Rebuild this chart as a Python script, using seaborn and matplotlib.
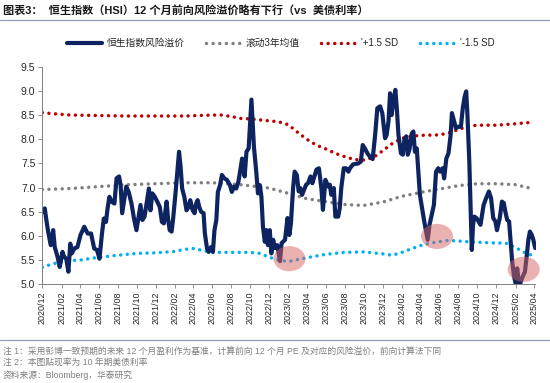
import matplotlib
matplotlib.use("Agg")
import matplotlib.pyplot as plt
import matplotlib.dates as mdates
from matplotlib.patches import Ellipse
from matplotlib.lines import Line2D
import pandas as pd
import seaborn as sns

# 恒生指数风险溢价
hsi_dates = [
    "2020-12-03", "2020-12-09", "2020-12-14", "2020-12-19", "2020-12-28",
    "2021-01-05", "2021-01-10", "2021-01-19", "2021-01-26", "2021-02-04", "2021-02-09",
    "2021-02-16", "2021-02-23", "2021-03-01", "2021-03-06", "2021-03-14", "2021-03-24",
    "2021-04-03", "2021-04-15", "2021-04-26", "2021-05-07", "2021-05-17", "2021-05-26",
    "2021-06-03", "2021-06-11", "2021-06-17", "2021-06-24", "2021-06-29", "2021-07-05",
    "2021-07-12", "2021-07-21", "2021-07-28", "2021-08-05", "2021-08-10", "2021-08-15",
    "2021-08-23", "2021-08-28", "2021-09-05", "2021-09-14", "2021-09-22", "2021-09-30",
    "2021-10-07", "2021-10-13", "2021-10-19", "2021-10-26", "2021-11-03", "2021-11-09",
    "2021-11-14", "2021-11-20", "2021-11-28", "2021-12-06", "2021-12-14", "2021-12-21",
    "2021-12-27", "2022-01-05", "2022-01-10", "2022-01-15", "2022-01-21", "2022-01-26",
    "2022-02-03", "2022-02-09", "2022-02-14", "2022-02-19", "2022-02-24", "2022-03-03",
    "2022-03-10", "2022-03-17", "2022-03-22", "2022-03-30", "2022-04-05", "2022-04-10",
    "2022-04-15", "2022-04-20", "2022-04-26", "2022-05-04", "2022-05-08", "2022-05-15",
    "2022-05-20", "2022-05-28", "2022-06-03", "2022-06-08", "2022-06-14", "2022-06-19",
    "2022-06-26", "2022-07-02", "2022-07-10", "2022-07-18", "2022-07-28", "2022-08-03",
    "2022-08-10", "2022-08-17", "2022-08-24", "2022-09-05", "2022-09-13", "2022-09-19",
    "2022-09-26", "2022-10-05", "2022-10-13", "2022-10-20", "2022-10-26", "2022-11-01",
    "2022-11-06", "2022-11-11", "2022-11-17", "2022-11-22", "2022-11-27", "2022-12-03",
    "2022-12-08", "2022-12-14", "2022-12-19", "2022-12-27", "2023-01-05", "2023-01-10",
    "2023-01-21", "2023-01-29", "2023-02-04", "2023-02-09", "2023-02-16", "2023-02-21",
    "2023-02-28", "2023-03-06", "2023-03-11", "2023-03-17", "2023-03-23", "2023-03-30",
    "2023-04-05", "2023-04-13", "2023-04-19", "2023-05-02", "2023-05-10", "2023-05-18",
    "2023-05-23", "2023-05-31", "2023-06-09", "2023-06-14", "2023-06-19", "2023-06-27",
    "2023-07-02", "2023-07-11", "2023-07-16", "2023-07-21", "2023-07-29", "2023-08-05",
    "2023-08-13", "2023-08-18", "2023-08-28", "2023-09-14", "2023-09-22", "2023-09-28",
    "2023-10-05", "2023-10-13", "2023-10-21", "2023-10-30", "2023-11-07", "2023-11-14",
    "2023-11-23", "2023-11-30", "2023-12-09", "2023-12-14", "2023-12-20", "2023-12-25",
    "2023-12-30", "2024-01-05", "2024-01-11", "2024-01-16", "2024-01-21", "2024-01-29",
    "2024-02-04", "2024-02-09", "2024-02-15", "2024-02-20", "2024-02-25", "2024-03-04",
    "2024-03-09", "2024-03-14", "2024-03-20", "2024-03-25", "2024-03-30", "2024-04-05",
    "2024-04-13", "2024-04-19", "2024-04-24", "2024-04-30", "2024-05-07", "2024-05-14",
    "2024-05-21", "2024-05-28", "2024-06-03", "2024-06-11", "2024-06-16", "2024-06-23",
    "2024-06-30", "2024-07-07", "2024-07-11", "2024-07-18", "2024-07-24", "2024-08-02",
    "2024-08-09", "2024-08-15", "2024-08-21", "2024-08-26", "2024-08-30", "2024-09-05",
    "2024-09-09", "2024-09-13", "2024-09-17", "2024-09-21", "2024-09-28", "2024-10-05",
    "2024-10-11", "2024-10-21", "2024-10-29", "2024-11-07", "2024-11-14", "2024-11-21",
    "2024-11-28", "2024-12-03", "2024-12-12", "2024-12-19", "2024-12-25", "2024-12-30",
    "2025-01-05", "2025-01-11", "2025-01-16", "2025-01-21", "2025-01-27", "2025-02-02",
    "2025-02-06", "2025-02-12", "2025-02-16", "2025-02-21", "2025-02-26", "2025-03-03",
    "2025-03-09", "2025-03-14", "2025-03-19", "2025-03-25", "2025-03-30", "2025-04-05",
]
hsi_values = [
    6.50, 6.57, 6.33, 6.12, 5.81,
    6.12, 5.77, 5.57, 5.36, 5.67, 5.57,
    5.53, 5.26, 5.84, 5.64, 5.74, 5.77,
    6.02, 6.19, 6.05, 6.05, 5.74, 5.71,
    5.53, 6.05, 6.36, 6.29, 6.57, 6.81,
    6.71, 6.67, 7.19, 7.23, 7.05, 6.47,
    6.81, 7.02, 6.91, 6.67, 6.36, 6.12,
    6.40, 6.64, 6.33, 6.40, 6.74, 6.98,
    6.53, 6.88, 6.81, 6.71, 6.60, 6.29,
    6.26, 6.71, 6.33, 6.12, 6.09, 6.36,
    6.91, 7.36, 7.74, 7.43, 6.98, 6.81,
    6.53, 6.60, 6.74, 6.53, 6.47, 6.67,
    6.74, 6.60, 6.50, 6.47, 6.06, 5.74,
    5.67, 5.77, 5.67, 6.12, 6.33, 6.91,
    7.05, 7.26, 7.19, 7.16, 7.05, 6.91,
    7.02, 6.98, 7.12, 7.60, 7.23, 7.74,
    7.81, 8.82, 7.84, 7.36, 6.88, 7.05,
    6.81, 6.19, 5.88, 6.12, 5.81, 6.12,
    5.64, 5.92, 5.75, 5.81, 5.48, 5.85,
    5.92, 6.37, 6.02, 6.26, 6.99, 7.33,
    7.26, 6.92, 6.99, 6.85, 6.95, 7.06,
    7.09, 7.23, 7.09, 7.37, 7.40, 6.99,
    6.54, 7.16, 7.02, 7.06, 6.85, 6.99,
    6.40, 6.40, 6.57, 6.99, 7.40, 7.40,
    7.33, 7.40, 7.48, 7.50, 7.54, 7.88,
    7.81, 7.71, 7.64, 7.59, 8.09, 8.64,
    8.68, 8.54, 8.02, 8.09, 8.37, 8.95,
    8.50, 8.81, 9.02, 8.61, 8.09, 7.71,
    7.68, 7.99, 8.06, 7.68, 7.78, 8.12,
    8.16, 7.74, 7.81, 7.33, 6.85, 6.61,
    6.30, 6.09, 5.92, 6.23, 6.43, 6.64,
    7.33, 7.40, 7.33, 7.40, 7.19, 7.60,
    7.71, 8.09, 8.54, 8.37, 8.23, 8.26,
    8.26, 8.64, 8.88, 8.99, 8.50, 7.54,
    6.64, 5.71, 6.23, 6.40, 6.37, 6.30,
    6.23, 6.64, 6.78, 6.92, 6.78, 6.37,
    6.30, 6.12, 6.37, 6.71, 6.68, 6.50,
    6.33, 6.30, 5.88, 5.47, 5.16, 5.00,
    5.33, 5.00, 5.02, 5.12, 5.19, 5.26,
    5.60, 5.92, 6.09, 6.02, 5.92, 5.75,
]

# 滚动3年均值
mean_dates = [
    "2020-12-01", "2021-03-01", "2021-06-01", "2021-09-01", "2021-12-01", "2022-03-01",
    "2022-06-01", "2022-09-01", "2022-12-01", "2023-02-01", "2023-04-01", "2023-06-01",
    "2023-08-01", "2023-10-01", "2023-12-01", "2024-02-01", "2024-04-01", "2024-06-01",
    "2024-08-01", "2024-10-01", "2024-12-01", "2025-02-01", "2025-03-25",
]
mean_values = [
    6.96, 6.98, 7.02, 7.06, 7.08, 7.10,
    7.10, 7.06, 6.99, 6.88, 6.77, 6.71,
    6.65, 6.63, 6.70, 6.82, 6.90, 6.97,
    7.04, 7.08, 7.08, 7.06, 6.98,
]

# +1.5 SD
upper_dates = [
    "2020-12-01", "2021-01-01", "2021-03-01", "2021-06-01", "2021-09-01", "2021-12-01",
    "2022-03-01", "2022-06-01", "2022-07-01", "2022-08-01", "2022-09-01", "2022-10-01",
    "2022-12-01", "2023-01-01", "2023-02-01", "2023-03-01", "2023-04-01", "2023-05-01",
    "2023-06-01", "2023-07-01", "2023-08-01", "2023-09-01", "2023-10-01", "2023-11-01",
    "2023-12-01", "2024-01-01", "2024-02-01", "2024-03-01", "2024-04-01", "2024-06-01",
    "2024-07-01", "2024-08-01", "2024-09-01", "2024-10-01", "2024-12-01", "2025-02-01",
    "2025-03-25",
]
upper_values = [
    8.55, 8.53, 8.50, 8.49, 8.48, 8.48,
    8.48, 8.50, 8.50, 8.47, 8.43, 8.42,
    8.38, 8.36, 8.30, 8.15, 8.00, 7.88,
    7.80, 7.71, 7.64, 7.58, 7.57, 7.62,
    7.76, 7.91, 8.02, 8.06, 8.08, 8.09,
    8.13, 8.20, 8.27, 8.29, 8.29, 8.32,
    8.35,
]

# -1.5 SD
lower_dates = [
    "2020-12-01", "2021-01-01", "2021-02-01", "2021-03-01", "2021-04-01", "2021-05-01",
    "2021-06-01", "2021-08-01", "2021-10-01", "2021-12-01", "2022-02-01", "2022-03-01",
    "2022-04-01", "2022-05-01", "2022-06-01", "2022-08-01", "2022-10-01", "2022-11-01",
    "2022-12-01", "2023-01-01", "2023-02-01", "2023-03-01", "2023-04-01", "2023-06-01",
    "2023-08-01", "2023-10-01", "2023-12-01", "2024-01-01", "2024-02-01", "2024-03-01",
    "2024-04-01", "2024-05-01", "2024-06-01", "2024-07-01", "2024-09-01", "2024-11-01",
    "2025-01-01", "2025-02-01", "2025-03-01", "2025-03-25",
]
lower_values = [
    5.35, 5.42, 5.46, 5.49, 5.50, 5.53,
    5.56, 5.60, 5.64, 5.65, 5.68, 5.72,
    5.74, 5.70, 5.66, 5.66, 5.66, 5.64,
    5.56, 5.50, 5.47, 5.51, 5.55, 5.62,
    5.66, 5.67, 5.63, 5.60, 5.66, 5.73,
    5.80, 5.85, 5.88, 5.91, 5.88, 5.86,
    5.85, 5.76, 5.66, 5.60,
]

# 标注的低点区域（中心日期、数值）
circle_dates = ["2023-02-04", "2024-05-24", "2025-02-27"]
circle_values = [5.53, 5.99, 5.31]

title = "图表3：  恒生指数（HSI）12 个月前向风险溢价略有下行（vs  美债利率）"
notes = [
    "注 1：采用彭博一致预期的未来 12 个月盈利作为基准，计算前向 12 个月 PE 及对应的风险溢价，前向计算法下同",
    "注 2：本图贴现率为 10 年期美债利率",
    "资料来源：Bloomberg，华泰研究",
]

sns.set_theme(style="white")
plt.rcParams["font.family"] = ["Liberation Sans", "Noto Sans CJK SC"]

fig = plt.figure(figsize=(5.5, 3.83), dpi=100)
W, H = 550, 383
ax = fig.add_axes([42.3 / W, 1 - 284.3 / H, (535.5 - 42.3) / W, (284.3 - 66.7) / H])

dot = (0, (0.01, 1.9))
sns.lineplot(x=pd.to_datetime(mean_dates), y=mean_values, ax=ax, color="#808080",
             lw=2.5, linestyle=dot, dash_capstyle="round", label="滚动3年均值")
sns.lineplot(x=pd.to_datetime(upper_dates), y=upper_values, ax=ax, color="#C00000",
             lw=2.5, linestyle=dot, dash_capstyle="round", label="'+1.5 SD")
sns.lineplot(x=pd.to_datetime(lower_dates), y=lower_values, ax=ax, color="#00B0F0",
             lw=2.5, linestyle=dot, dash_capstyle="round", label="'-1.5 SD")
sns.lineplot(x=pd.to_datetime(hsi_dates), y=hsi_values, ax=ax, color="#0E2461",
             lw=3.0, label="恒生指数风险溢价")

for d, v in zip(circle_dates, circle_values):
    ax.add_patch(Ellipse((mdates.date2num(pd.Timestamp(d)), v), width=103, height=0.52,
                         facecolor="#D76464", edgecolor="none", alpha=0.5, zorder=5,
                         clip_on=False))

ax.set_xlim(pd.Timestamp("2020-12-01"), pd.Timestamp("2025-04-06"))
ax.set_ylim(5.0, 9.5)
ax.set_yticks([5.0 + 0.5 * i for i in range(10)])
ax.yaxis.set_major_formatter(matplotlib.ticker.FormatStrFormatter("%.1f"))
ticks = pd.date_range("2020-12-01", "2025-04-01", freq="2MS")
ax.set_xticks(ticks)
ax.set_xticklabels([t.strftime("%Y/%m") for t in ticks], rotation=90, fontsize=6.5,
                   color="#262626")
ax.tick_params(axis="y", labelsize=7.5, labelcolor="#262626", left=True, length=3,
               width=0.6, color="#7F7F7F", pad=2)
ax.tick_params(axis="x", bottom=True, length=3, width=0.6, color="#7F7F7F", pad=2)
ax.set_xlabel("")
ax.set_ylabel("")
sns.despine(ax=ax)
for s in ("left", "bottom"):
    ax.spines[s].set_color("#7F7F7F")
    ax.spines[s].set_linewidth(0.7)

handles, labels = ax.get_legend_handles_labels()
ax.get_legend().remove()
order = [3, 0, 1, 2]
fig.legend([handles[i] for i in order], [labels[i] for i in order], loc="center",
           bbox_to_anchor=(0.51, 1 - 43 / H), ncol=4, frameon=False, fontsize=7,
           handlelength=3.6, columnspacing=2.2, handletextpad=0.5)

fig.text(3 / W, 1 - 10 / H, title, fontsize=8, fontweight="bold", va="center",
         color="#1A1A1A")
fig.add_artist(Line2D([0, 1], [1 - 19.5 / H] * 2, color="#8EA2BC", lw=0.9,
                      transform=fig.transFigure))
fig.add_artist(Line2D([0, 1], [1 - 340 / H] * 2, color="#8EA2BC", lw=0.9,
                      transform=fig.transFigure))
for i, t in enumerate(notes):
    fig.text(3 / W, 1 - (351 + 12 * i) / H, t, fontsize=6.3, va="center", color="#7F7F7F")

fig.savefig("out.png", dpi=100)
